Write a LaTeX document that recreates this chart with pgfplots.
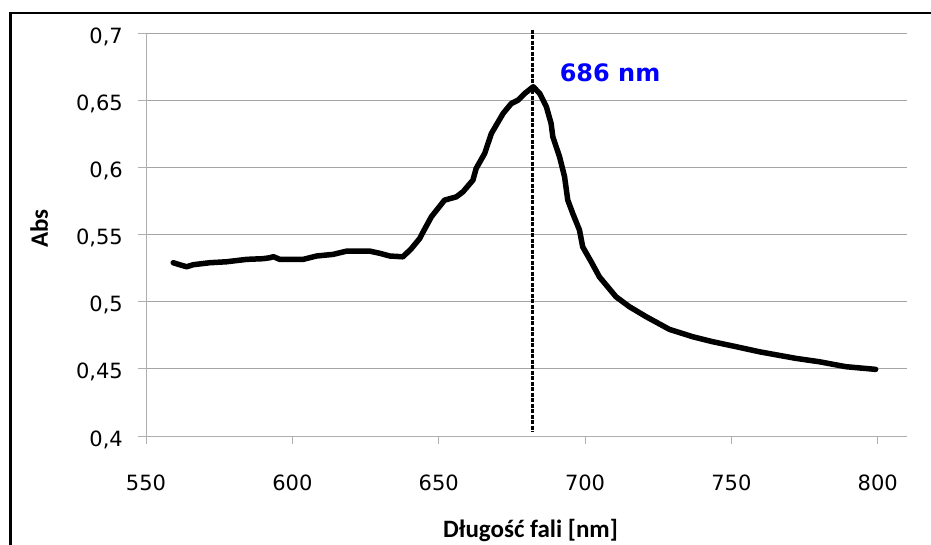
\documentclass[border=0pt]{standalone}
\usepackage{fontspec}
\setmainfont{DejaVu Sans}
\newfontfamily\carlito{Carlito}
\usepackage{pgfplots}
\pgfplotsset{compat=1.18}
\definecolor{gridgray}{RGB}{165,165,165}
\definecolor{axgray}{RGB}{175,175,175}
\definecolor{lblue}{RGB}{0,0,255}
\begin{document}
\begin{tikzpicture}[x=1pt,y=1pt]
\useasboundingbox (0,0) rectangle (931,-544);
\draw[line width=2.5pt] (10.5,-600) -- (10.5,-13) -- (1000,-13);
\begin{axis}[
  at={(146pt,-436pt)}, anchor=south west,
  scale only axis, width=761pt, height=403pt,
  xmin=550, xmax=810, ymin=0.4, ymax=0.7,
  axis lines=left,
  axis line style={draw=axgray, line width=1pt, -},
  ymajorgrids, grid style={gridgray, line width=1pt},
  xtick={550,600,650,700,750,800},
  ytick={0.4,0.45,0.5,0.55,0.6,0.65,0.7},
  tick align=outside, major tick length=8pt,
  tick style={axgray, line width=1pt},
  every tick label/.append style={font=\fontsize{21}{25}\selectfont},
  /pgf/number format/assume math mode=true,
  /pgf/number format/use comma,
  yticklabel style={anchor=base east, inner sep=0pt, xshift=-15pt, yshift=-10pt},
  xticklabel style={anchor=base, inner sep=0pt, yshift=-46pt},
  xlabel={\carlito\bfseries Długość fali [nm]},
  xlabel style={font=\fontsize{25}{30}\selectfont, at={(axis description cs:0.5053,-0.2530)}, anchor=base},
  ylabel={\carlito\bfseries Abs},
  ylabel style={font=\fontsize{25}{30}\selectfont, at={(axis description cs:-0.1288,0.515)}, anchor=base, rotate=0},
  clip=false,
]
\addplot[black, line width=5.5pt, line join=round, line cap=round] coordinates {
(559.3,0.529) (561.5,0.5275) (563.9,0.526) (566.1,0.5275) (571.8,0.529)
(577.5,0.5297) (584.4,0.5315) (590,0.532) (592.3,0.5327) (593.5,0.5335)
(595.7,0.5315) (603.7,0.5315) (608.3,0.534) (613.9,0.5352) (618.5,0.5376)
(626.5,0.5376) (629.9,0.536) (633.3,0.534) (637.8,0.5334) (640.7,0.5396)
(643.5,0.547) (644.7,0.552) (647.5,0.5632) (652,0.5756) (656,0.578)
(658.3,0.5818) (661.7,0.5905) (662.8,0.5992) (665.7,0.6103) (668,0.6252)
(672,0.6401) (674.8,0.6475) (677.1,0.65) (679.4,0.655) (682.3,0.66)
(684.5,0.655) (686.8,0.645) (688.4,0.6327) (689,0.6227) (691.3,0.6078)
(693,0.593) (694.1,0.5756) (695.8,0.5657) (698.1,0.5533) (699.2,0.5408)
(702.1,0.5297) (704.9,0.5185) (710.6,0.5036) (715.2,0.4962) (720.9,0.4888)
(728.8,0.4794) (736.8,0.4739) (743.6,0.4702) (751.6,0.4665) (759.6,0.4627)
(772,0.4578) (780,0.4553) (789.1,0.4516) (799.3,0.4496)
};
\addplot[black, line width=3pt, dash pattern=on 4pt off 1.5pt] coordinates {(682.2,0.7025) (682.2,0.403)};
\node[anchor=base west, inner sep=0pt, text=lblue, font=\fontsize{24}{28}\selectfont\bfseries] at (axis cs:691.3,0.664) {686 nm};
\end{axis}
\end{tikzpicture}
\end{document}
